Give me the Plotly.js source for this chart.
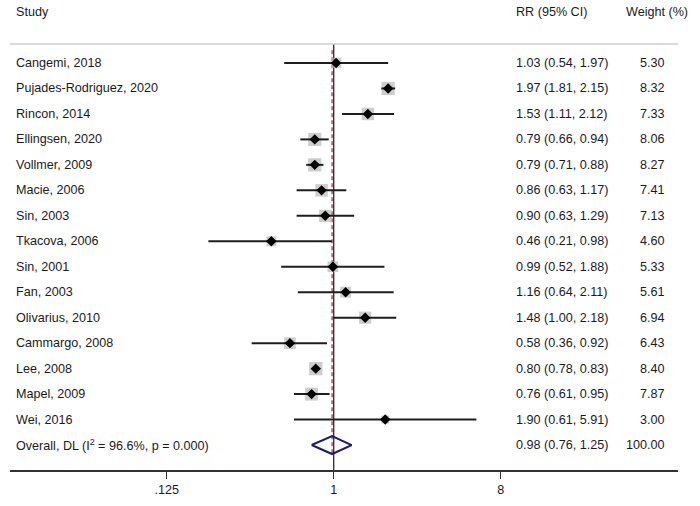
<!DOCTYPE html>
<html>
<head>
<meta charset="utf-8">
<script src="https://cdn.plot.ly/plotly-3.0.1.min.js"></script>
<style>html,body{margin:0;padding:0;background:#fff;}#chart{width:700px;height:506px;}</style>
</head>
<body>
<div id="chart"></div>
<script>
// ---- data ----
const studies = ["Cangemi, 2018","Pujades-Rodriguez, 2020","Rincon, 2014","Ellingsen, 2020","Vollmer, 2009","Macie, 2006","Sin, 2003","Tkacova, 2006","Sin, 2001","Fan, 2003","Olivarius, 2010","Cammargo, 2008","Lee, 2008","Mapel, 2009","Wei, 2016"];
const rr     = [1.03,1.97,1.53,0.79,0.79,0.86,0.90,0.46,0.99,1.16,1.48,0.58,0.80,0.76,1.90];
const lo     = [0.54,1.81,1.11,0.66,0.71,0.63,0.63,0.21,0.52,0.64,1.00,0.36,0.78,0.61,0.61];
const hi     = [1.97,2.15,2.12,0.94,0.88,1.17,1.29,0.98,1.88,2.11,2.18,0.92,0.83,0.95,5.91];
const weight = [5.30,8.32,7.33,8.06,8.27,7.41,7.13,4.60,5.33,5.61,6.94,6.43,8.40,7.87,3.00];
const overallLabel = "Overall, DL (I<sup>2</sup> = 96.6%, p = 0.000)";
const overallRR = 0.98, overallLo = 0.76, overallHi = 1.25, overallWeight = 100.00;
const tickVals = [0.125, 1, 8];
const tickText = [".125", "1", "8"];
const headers = {study: "Study", rr: "RR (95% CI)", weight: "Weight (%)"};

// ---- build ----
const n = studies.length;
const rows = studies.map((_, i) => i);
const overallRow = n;
const fmt = v => v.toFixed(2);

const ciX = [], ciY = [];
for (let i = 0; i < n; i++) { ciX.push(lo[i], hi[i], null); ciY.push(rows[i], rows[i], null); }

const hh = 0.353;
const traces = [
  { type: 'scatter', mode: 'markers', x: rr, y: rows, hoverinfo: 'skip',
    marker: { symbol: 'square', size: weight.map(w => Math.sqrt(w) * 4.6), color: '#b8b8b8', line: {width: 0} } },
  { type: 'scatter', mode: 'lines', x: ciX, y: ciY, hoverinfo: 'skip',
    line: { color: '#1e1e1e', width: 2 } },
  { type: 'scatter', mode: 'markers', x: rr, y: rows, hoverinfo: 'skip',
    marker: { symbol: 'diamond', size: 8, color: '#000', line: {width: 0} } },
  { type: 'scatter', mode: 'lines', hoverinfo: 'skip',
    x: [overallLo, overallRR, overallHi, overallRR, overallLo],
    y: [overallRow, overallRow - hh, overallRow, overallRow + hh, overallRow],
    line: { color: '#1a1a78', width: 2 } }
];

const F = "Liberation Sans, Arial, sans-serif";
const FS = 12.6;
const px = p => (p - 10) / 668;
const ann = [];
const txt = (x, y, t, anchor) => ann.push({ xref: 'paper', yref: 'y', x: x, y: y, text: t, showarrow: false,
  xanchor: anchor, yanchor: 'middle', font: { family: F, size: FS, color: '#1a1a1a' } });
txt(px(14), -2, headers.study, 'left');
txt(px(513.5), -2, headers.rr, 'left');
txt(px(690), -2, headers.weight, 'right');
for (let i = 0; i < n; i++) {
  txt(px(14), rows[i], studies[i], 'left');
  txt(px(513.5), rows[i], `${fmt(rr[i])} (${fmt(lo[i])}, ${fmt(hi[i])})`, 'left');
  txt(px(667), rows[i], fmt(weight[i]), 'right');
}
txt(px(14), overallRow, overallLabel, 'left');
txt(px(513.5), overallRow, `${fmt(overallRR)} (${fmt(overallLo)}, ${fmt(overallHi)})`, 'left');
txt(px(667), overallRow, fmt(overallWeight), 'right');

const topLineY = -0.746;
const shapes = [
  { type: 'line', xref: 'paper', yref: 'y', x0: 0, x1: 1, y0: topLineY, y1: topLineY, line: { color: '#cccccc', width: 1.5 } },
  { type: 'line', xref: 'x', yref: 'y', x0: 1, x1: 1, y0: topLineY, y1: 15.98, line: { color: '#2a2a2a', width: 1.3 }, layer: 'below' },
  { type: 'line', xref: 'x', yref: 'y', x0: overallRR, x1: overallRR, y0: -0.5, y1: overallRow + 0.37, line: { color: '#b8535e', width: 1.5, dash: '4px,3px' }, layer: 'below' }
];

const layout = {
  width: 700, height: 506,
  margin: { l: 10, r: 22, t: 5, b: 36 },
  paper_bgcolor: '#fff', plot_bgcolor: '#fff',
  showlegend: false,
  xaxis: { type: 'log', range: [-1.7506, 1.862], autorange: false, showgrid: false, zeroline: false,
    showline: true, linecolor: '#333', linewidth: 1.5, ticks: 'outside', ticklen: 7, tickwidth: 1.5, tickcolor: '#333',
    tickvals: tickVals, ticktext: tickText, tickfont: { family: F, size: FS, color: '#1a1a1a' }, fixedrange: true },
  yaxis: { range: [15.98, -2.277], autorange: false, visible: false, showgrid: false, zeroline: false, fixedrange: true },
  annotations: ann,
  shapes: shapes
};

Plotly.newPlot('chart', traces, layout, { staticPlot: true, displayModeBar: false });
</script>
</body>
</html>
